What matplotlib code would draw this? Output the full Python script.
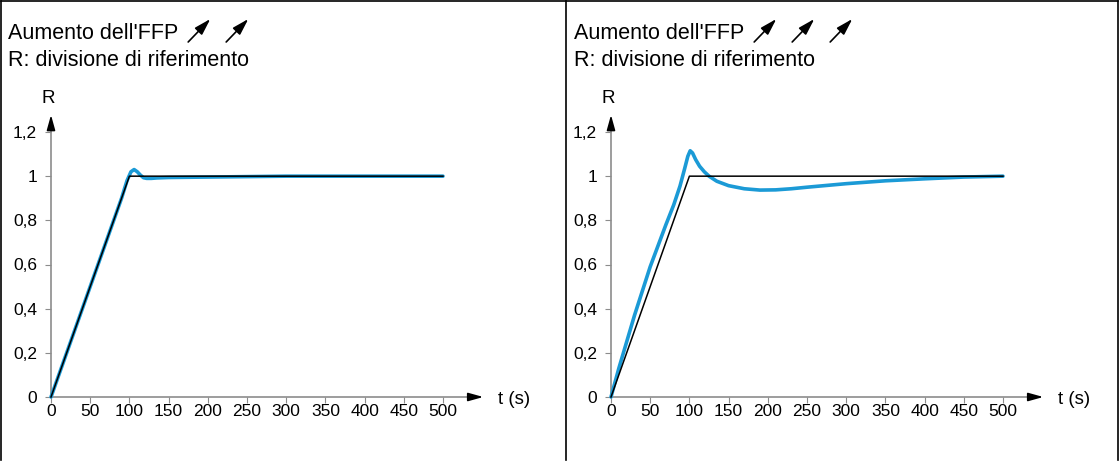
import matplotlib
matplotlib.use("Agg")
import matplotlib.pyplot as plt
from matplotlib.lines import Line2D

plt.rcParams['font.family'] = ['Liberation Sans', 'DejaVu Sans']

# ---- data ----
ref_t = [0, 100, 500]
ref_r = [0, 1, 1]

left_t = [0, 10, 20, 30, 40, 50, 60, 70, 80, 90, 97, 102, 106, 110, 114, 118, 122, 128, 135, 150, 200, 250, 300, 350, 400, 450, 500]
left_r = [0, 0.10, 0.20, 0.30, 0.40, 0.50, 0.60, 0.70, 0.80, 0.90, 0.98, 1.02, 1.03, 1.02, 1.005, 0.993, 0.99, 0.99, 0.992, 0.994, 0.996, 0.998, 1.0, 1.0, 1.0, 1.0, 1.0]

right_t = [0, 10, 20, 30, 40, 50, 60, 70, 80, 88, 94, 98, 101, 104, 108, 113, 119, 125, 135, 150, 170, 190, 210, 230, 250, 300, 350, 400, 450, 500]
right_r = [0, 0.13, 0.25, 0.37, 0.48, 0.59, 0.685, 0.78, 0.87, 0.955, 1.035, 1.09, 1.115, 1.105, 1.075, 1.045, 1.02, 1.0, 0.977, 0.957, 0.943, 0.937, 0.938, 0.943, 0.95, 0.966, 0.979, 0.988, 0.996, 1.0]

yticks = [0, 0.2, 0.4, 0.6, 0.8, 1.0, 1.2]
ytick_labels = ["0", "0,2", "0,4", "0,6", "0,8", "1", "1,2"]
xticks = [0, 50, 100, 150, 200, 250, 300, 350, 400, 450, 500]
xtick_labels = [str(v) for v in xticks]

title1 = "Aumento dell'FFP"
title2 = "R: divisione di riferimento"
n_arrows = [2, 3]

W, H = 1119, 461
fig = plt.figure(figsize=(W / 100, H / 100), dpi=100)

BLUE = '#1b9ad6'
GRAY = '#8c8c8c'

def fx(px):
    return px / W

def fy(py):
    return 1 - py / H

panels = [(51, left_t, left_r), (611, right_t, right_r)]
panel_left = [0, 566]

for i, (x0, tt, rr) in enumerate(panels):
    ax = fig.add_axes([fx(x0), fy(397), 392 / W, (397 - 132) / H])
    ax.set_xlim(0, 500)
    ax.set_ylim(0, 1.2)
    for s in ax.spines.values():
        s.set_visible(False)
    ax.set_xticks(xticks)
    ax.set_xticklabels(xtick_labels)
    ax.set_yticks(yticks)
    ax.set_yticklabels(ytick_labels)
    ax.tick_params(axis='both', direction='out', length=4, width=0.8, color=GRAY,
                   labelsize=12.5, labelcolor='black')
    ax.tick_params(axis='x', pad=1)
    ax.tick_params(axis='y', pad=6)
    ax.patch.set_visible(False)
    # axis lines with arrows
    ax.plot([0, 540], [0, 0], color=GRAY, lw=1.2, clip_on=False, zorder=1)
    ax.plot([0, 0], [0, 1.25], color=GRAY, lw=1.2, clip_on=False, zorder=1)
    ax.annotate("", xy=(555, 0), xytext=(535, 0), xycoords='data',
                arrowprops=dict(arrowstyle='-|>,head_length=0.9,head_width=0.25', color='black', lw=1.2),
                annotation_clip=False)
    ax.annotate("", xy=(0, 1.29), xytext=(0, 1.22), xycoords='data',
                arrowprops=dict(arrowstyle='-|>,head_length=0.9,head_width=0.25', color='black', lw=1.2),
                annotation_clip=False)
    ax.text(570, -0.01, "t (s)", fontsize=13.5, va='center', ha='left', clip_on=False)
    ax.text(-4, 1.35, "R", fontsize=13.5, va='center', ha='center', clip_on=False)
    ax.plot(tt, rr, color=BLUE, lw=2.6, clip_on=False, zorder=3, solid_joinstyle='round',
            solid_capstyle='round')
    ax.plot(ref_t, ref_r, color='black', lw=1.1, clip_on=False, zorder=4)

    pl = panel_left[i]
    t1 = fig.text(fx(pl + 8), fy(33), title1, fontsize=15.5, va='center', ha='left')
    fig.text(fx(pl + 8), fy(60), title2, fontsize=15.5, va='center', ha='left')
    fig.canvas.draw()
    bb = t1.get_window_extent()
    xs = bb.x1 + 8
    for k in range(n_arrows[i]):
        ax0 = xs + k * 38
        fig.add_artist(plt.Annotation("", xy=((ax0 + 26) / W, (H - 17) / H), xytext=(ax0 / W, (H - 44) / H),
                                      xycoords='figure fraction', textcoords='figure fraction',
                                      arrowprops=dict(arrowstyle='-|>,head_length=1.0,head_width=0.3',
                                                      color='black', lw=1.2)))

# frame
for (xa, ya, xb, yb) in [(1, 1, 1118, 1), (1, 1, 1, 460), (1118, 1, 1118, 460), (566, 1, 566, 460)]:
    fig.add_artist(Line2D([fx(xa), fx(xb)], [fy(ya), fy(yb)], color='black', lw=1.2))

fig.savefig("out.png", dpi=100)
